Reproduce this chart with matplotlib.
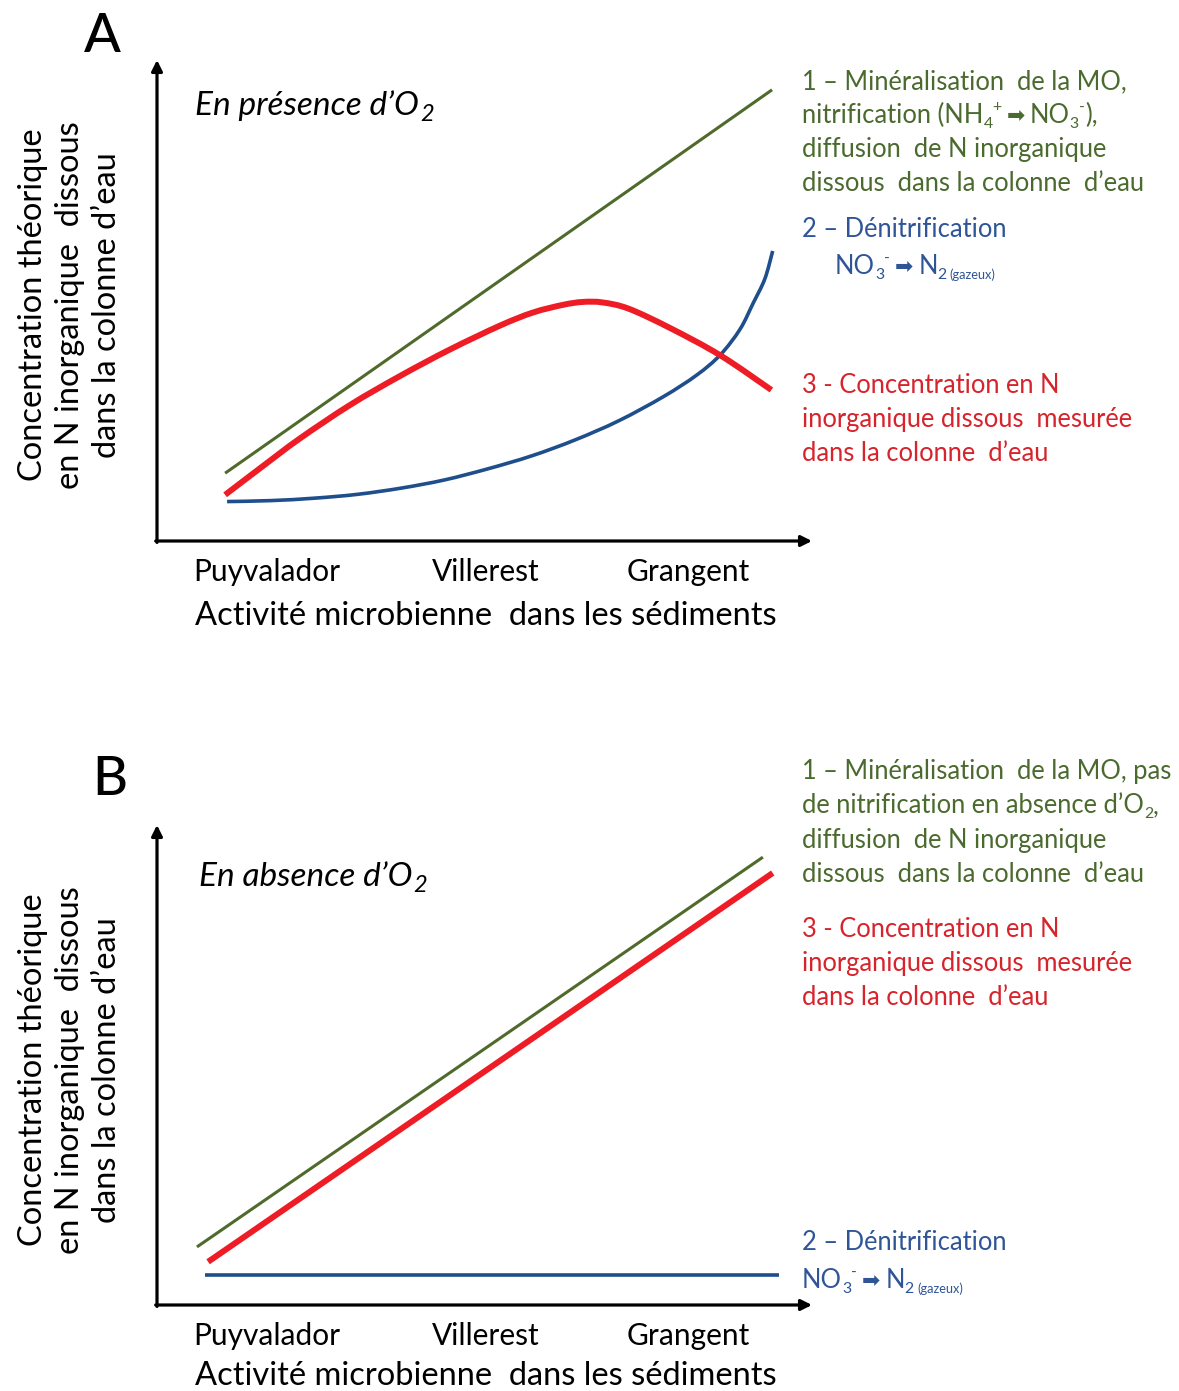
import matplotlib
matplotlib.use('Agg')
import matplotlib.pyplot as plt
from matplotlib.path import Path
from matplotlib.patches import PathPatch

W, H = 1179, 1391
FONT = ['Lato', 'DejaVu Sans']
plt.rcParams['font.family'] = FONT

# ---------------- data (axis units 0..100 on both axes) ----------------
sites = ['Puyvalador', 'Villerest', 'Grangent']
site_pos = [16.8, 50.2, 81.1]

# Panel A : en présence d'O2
A_green_x = [10.4, 93.9]
A_green_y = [14.1, 93.8]
A_red_x = [10.4, 16.0, 21.8, 29.5, 37.1, 44.7, 52.4, 57.4, 62.0, 65.0, 68.0, 72.0, 78.3, 86.0, 93.8]
A_red_y = [9.6, 15.4, 21.3, 28.3, 34.3, 39.8, 44.8, 47.5, 49.1, 49.7, 49.6, 48.3, 44.3, 38.6, 31.4]
A_blue_x = [10.7, 17.4, 24.0, 30.6, 37.3, 43.9, 50.5, 57.2, 63.8, 70.5, 77.3, 82.4, 86.0, 89.0, 91.0, 92.8, 94.0]
A_blue_y = [8.2, 8.4, 8.9, 9.7, 11.0, 12.7, 15.0, 17.7, 21.0, 25.0, 30.0, 34.5, 38.7, 44.0, 49.4, 54.5, 60.3]

# Panel B : en absence d'O2
B_green_x = [6.1, 92.5]
B_green_y = [12.1, 93.3]
B_red_x = [7.8, 94.0]
B_red_y = [9.0, 90.0]
B_blue_x = [7.3, 95.0]
B_blue_y = [6.2, 6.2]

GREEN_L = '#4f6a2a'
RED_L = '#ee1c25'
BLUE_L = '#1f4e8c'
GREEN_T = '#4a6a2e'
RED_T = '#d7232b'
BLUE_T = '#2f5597'

fig = plt.figure(figsize=(W / 100, H / 100), dpi=100)
renderer = fig.canvas.get_renderer()


def fx(px):
    return px / W


def fy(py):
    return 1 - py / H


def make_axes(left, top, right, bottom):
    ax = fig.add_axes([fx(left), fy(bottom), (right - left) / W, (bottom - top) / H])
    ax.set_xlim(0, 100)
    ax.set_ylim(0, 100)
    for s in ax.spines.values():
        s.set_visible(False)
    ax.set_yticks([])
    ax.set_xticks(site_pos)
    ax.set_xticklabels(sites, fontsize=21.5)
    ax.tick_params(axis='x', length=0, pad=12)
    ax.patch.set_alpha(0)
    arrow = dict(arrowstyle='-|>', lw=2.3, color='black', mutation_scale=16,
                 shrinkA=0, shrinkB=0)
    ax.annotate('', xy=(100, 0), xytext=(-0.2, 0), arrowprops=arrow, annotation_clip=False)
    ax.annotate('', xy=(0, 100), xytext=(0, -0.3), arrowprops=arrow, annotation_clip=False)
    return ax


def smooth(ax, xs, ys, color, lw):
    """Draw a smooth curve (Catmull-Rom as cubic Bezier) through the given points."""
    pts = list(zip(xs, ys))
    n = len(pts)
    verts = [pts[0]]
    codes = [Path.MOVETO]
    for i in range(n - 1):
        p0 = pts[i - 1] if i > 0 else pts[i]
        p1 = pts[i]
        p2 = pts[i + 1]
        p3 = pts[i + 2] if i + 2 < n else pts[i + 1]
        c1 = (p1[0] + (p2[0] - p0[0]) / 6, p1[1] + (p2[1] - p0[1]) / 6)
        c2 = (p2[0] - (p3[0] - p1[0]) / 6, p2[1] - (p3[1] - p1[1]) / 6)
        verts += [c1, c2, p2]
        codes += [Path.CURVE4] * 3
    patch = PathPatch(Path(verts, codes), fill=False, edgecolor=color, lw=lw,
                      capstyle='butt', joinstyle='round', clip_on=False)
    ax.add_patch(patch)


def rich(x_px, base_px, runs, size=18.4, color='black'):
    """runs: list of (text, scale, dy_fraction, extra_gap_px[, weight])"""
    x = x_px
    for item in runs:
        s, sc, dy, gap = item[:4]
        weight = item[4] if len(item) > 4 else 'normal'
        fs = size * sc
        t = fig.text(fx(x), fy(base_px - dy * size * 1.389), s, fontsize=fs,
                     color=color, ha='left', va='baseline', fontweight=weight)
        w = t.get_window_extent(renderer).width
        x += w + gap


def plain(x_px, base_px, s, size=18.4, color='black'):
    rich(x_px, base_px, [(s, 1, 0, 0)], size=size, color=color)


# ---------------- Panel A ----------------
axA = make_axes(157, 60, 812, 541)
axA.plot(A_green_x, A_green_y, color=GREEN_L, lw=2.2, solid_capstyle='butt', clip_on=False)
smooth(axA, A_blue_x, A_blue_y, BLUE_L, 2.6)
smooth(axA, A_red_x, A_red_y, RED_L, 4.3)

# ---------------- Panel B ----------------
axB = make_axes(157, 825, 812, 1305)
axB.plot(B_green_x, B_green_y, color=GREEN_L, lw=2.2, solid_capstyle='butt', clip_on=False)
axB.plot(B_red_x, B_red_y, color=RED_L, lw=4.3, solid_capstyle='butt', clip_on=False)
axB.plot(B_blue_x, B_blue_y, color=BLUE_L, lw=2.6, solid_capstyle='butt', clip_on=False)

# panel letters
fig.text(fx(102), fy(36), 'A', fontsize=39, ha='center', va='center', fontweight='medium')
fig.text(fx(110), fy(780), 'B', fontsize=39, ha='center', va='center', fontweight='medium')

# x labels
for yc in (616, 1376):
    fig.text(fx(486), fy(yc), 'Activité microbienne  dans les sédiments', fontsize=23.5,
             ha='center', va='center')

# y labels
ylab = 'Concentration théorique\nen N inorganique  dissous\ndans la colonne d’eau'
for yc in (305, 1070):
    fig.text(fx(70), fy(yc), ylab, fontsize=23.5, rotation=90, ha='center', va='center',
             multialignment='center', linespacing=1.3)

# italic titles
for (xp, bp, word) in ((195, 115, 'En présence d’O'), (199, 886, 'En absence d’O')):
    x = xp
    t = fig.text(fx(x), fy(bp), word, fontsize=24, style='italic', ha='left', va='baseline')
    w = t.get_window_extent(renderer).width
    fig.text(fx(x + w + 1), fy(bp + 6), '2', fontsize=17, style='italic', ha='left', va='baseline')

ARR = '➡'
LX = 802

# legend A
plain(LX, 89, '1 – Minéralisation  de la MO,', color=GREEN_T)
rich(LX, 123, [('nitrification (NH', 1, 0, 0), ('4', 0.62, -0.2, 0), ('+', 0.62, 0.45, 5),
               (ARR, 0.85, 0.02, 5), ('NO', 1, 0, 0), ('3', 0.62, -0.2, 0), ('-', 0.62, 0.45, 0),
               ('),', 1, 0, 0)], color=GREEN_T)
plain(LX, 157, 'diffusion  de N inorganique', color=GREEN_T)
plain(LX, 191, 'dissous  dans la colonne  d’eau', color=GREEN_T)

plain(LX, 237, '2 – Dénitrification', color=BLUE_T)
rich(835, 274, [('NO', 1, 0, 0), ('3', 0.62, -0.2, 0), ('-', 0.62, 0.45, 5),
                (ARR, 0.85, 0.02, 5), ('N', 1, 0, 0), ('2', 0.62, -0.2, 3),
                ('(gazeux)', 0.5, -0.2, 0)], color=BLUE_T)

plain(LX, 393, '3 - Concentration en N', color=RED_T)
plain(LX, 427, 'inorganique dissous  mesurée', color=RED_T)
plain(LX, 461, 'dans la colonne  d’eau', color=RED_T)

# legend B
plain(LX, 779, '1 – Minéralisation  de la MO, pas', color=GREEN_T)
rich(LX, 813, [('de nitrification en absence d’O', 1, 0, 0), ('2', 0.62, -0.2, 0),
               (',', 1, 0, 0)], color=GREEN_T)
plain(LX, 848, 'diffusion  de N inorganique', color=GREEN_T)
plain(LX, 882, 'dissous  dans la colonne  d’eau', color=GREEN_T)

plain(LX, 937, '3 - Concentration en N', color=RED_T)
plain(LX, 971, 'inorganique dissous  mesurée', color=RED_T)
plain(LX, 1005, 'dans la colonne  d’eau', color=RED_T)

plain(LX, 1250, '2 – Dénitrification', color=BLUE_T)
rich(LX, 1288, [('NO', 1, 0, 0), ('3', 0.62, -0.2, 0), ('-', 0.62, 0.45, 5),
                (ARR, 0.85, 0.02, 5), ('N', 1, 0, 0), ('2', 0.62, -0.2, 3),
                ('(gazeux)', 0.5, -0.2, 0)], color=BLUE_T)

fig.savefig('out.png', dpi=100)
